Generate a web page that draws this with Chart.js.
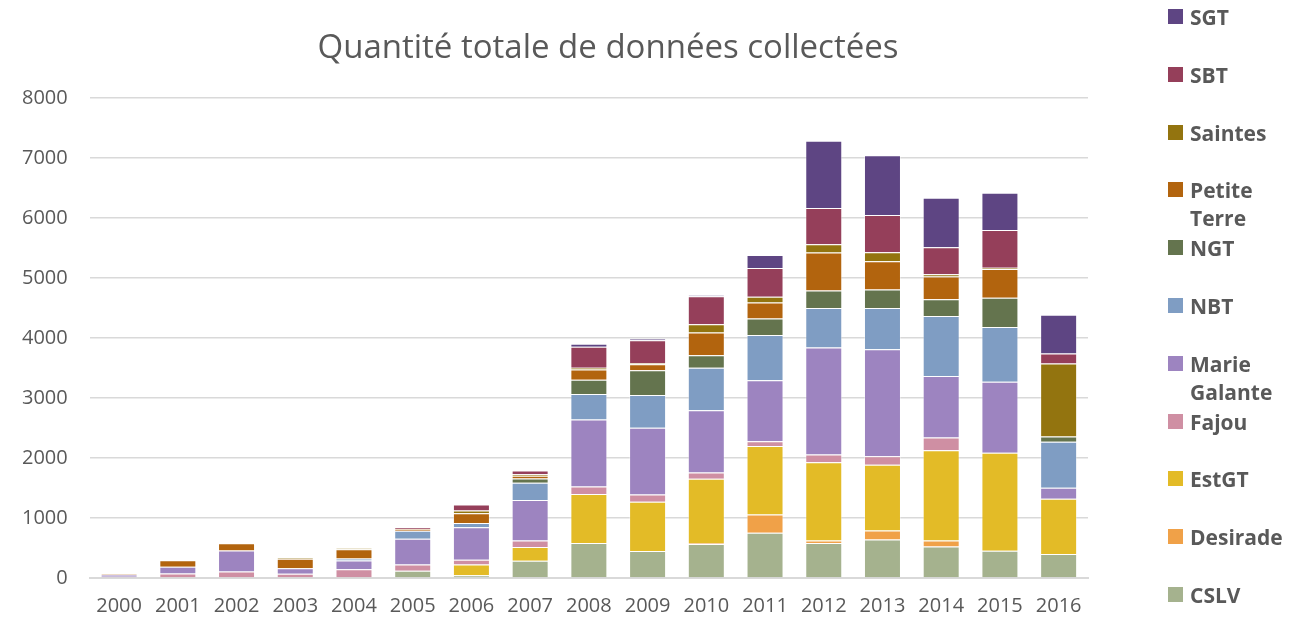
<!DOCTYPE html>
<html>
<head>
<meta charset="utf-8">
<script src="https://cdn.jsdelivr.net/npm/chart.js@4"></script>
<style>
    body { margin: 0; background: #fff; }
    #wrap { position: relative; width: 1304px; height: 618px; overflow: hidden; }
    #box { position: absolute; left: 0; top: 0; width: 1216px; height: 634px; }
    #title { position: absolute; left: 0; top: 26px; width: 1216px; text-align: center; font-family: 'Open Sans', sans-serif; font-size: 33px; line-height: 40px; color: #595959; }
    #legend { position: absolute; left: 1168px; top: 3px; font-family: 'Open Sans', sans-serif; font-weight: bold; font-size: 21px; color: #595959; }
    .item { position: relative; height: 57.8px; padding-left: 22px; line-height: 28px; }
    .swatch { position: absolute; left: 0; top: 6px; width: 15px; height: 15px; }
</style>
</head>
<body>
<div id="wrap">
    <div id="box"><canvas id="chart"></canvas></div>
    <div id="title">Quantité totale de données collectées</div>
    <div id="legend"></div>
</div>
<script>
const years = ['2000', '2001', '2002', '2003', '2004', '2005', '2006', '2007', '2008',
    '2009', '2010', '2011', '2012', '2013', '2014', '2015', '2016'];

const cslv = [0, 0, 0, 0, 0, 122, 45, 289, 584, 451, 568, 755, 584, 640, 523, 456, 401];
const desirade = [0, 0, 0, 0, 0, 0, 0, 0, 0, 0, 17, 303, 39, 150, 100, 0, 0];
const estGT = [0, 0, 0, 0, 0, 0, 178, 228, 818, 818, 1068, 1141, 1308, 1096, 1508, 1631, 918];
const fajou = [22, 75, 110, 72, 145, 103, 83, 106, 122, 122, 106, 80, 128, 145, 211, 0, 0];
const marieGalante = [35, 113, 348, 89, 145, 428, 540, 679, 1119, 1113, 1035, 1016, 1781, 1781, 1024, 1185, 184];
const nbt = [0, 0, 0, 0, 33, 136, 72, 284, 423, 545, 712, 757, 662, 690, 1002, 913, 768];
const ngt = [0, 0, 0, 0, 0, 0, 0, 72, 239, 412, 206, 273, 289, 306, 278, 484, 89];
const petiteTerre = [20, 106, 123, 161, 156, 28, 161, 45, 172, 100, 378, 267, 634, 473, 378, 479, 0];
const saintes = [0, 0, 0, 17, 17, 0, 45, 28, 28, 17, 139, 95, 139, 150, 39, 22, 1213];
const sbt = [0, 0, 0, 0, 0, 28, 100, 61, 351, 384, 467, 479, 601, 618, 451, 629, 167];
const sgt = [0, 0, 0, 0, 0, 0, 0, 0, 50, 28, 15, 217, 1124, 996, 824, 623, 646];

const yTicks = [0, 1000, 2000, 3000, 4000, 5000, 6000, 7000, 8000];

// bottom of the stack first
const series = [
    { label: 'CSLV', data: cslv, color: '#a5b28e' },
    { label: 'Desirade', data: desirade, color: '#f0a148' },
    { label: 'EstGT', data: estGT, color: '#e3bb27' },
    { label: 'Fajou', data: fajou, color: '#cf8fa3' },
    { label: 'Marie Galante', data: marieGalante, color: '#9d84c0' },
    { label: 'NBT', data: nbt, color: '#7f9dc3' },
    { label: 'NGT', data: ngt, color: '#64744e' },
    { label: 'Petite Terre', data: petiteTerre, color: '#b2640e' },
    { label: 'Saintes', data: saintes, color: '#93740f' },
    { label: 'SBT', data: sbt, color: '#953f5a' },
    { label: 'SGT', data: sgt, color: '#5e4583' }
];

const textColor = '#595959';

const chart = new Chart(document.getElementById('chart'), {
    type: 'bar',
    data: {
        labels: years,
        datasets: series.map(s => ({
            label: s.label,
            data: s.data,
            backgroundColor: s.color,
            borderColor: 'rgba(255,255,255,0.35)',
            borderWidth: 1,
            categoryPercentage: 1,
            barPercentage: 0.63
        }))
    },
    options: {
        responsive: true,
        maintainAspectRatio: false,
        animation: false,
        layout: { padding: { left: 0, right: 128, top: 98, bottom: 0 } },
        plugins: {
            legend: { display: false },
            tooltip: { enabled: false },
            title: { display: false }
        },
        scales: {
            x: {
                stacked: true,
                grid: { display: false, drawTicks: false },
                border: { color: '#d9d9d9', width: 2 },
                ticks: { color: textColor, font: { family: 'Open Sans', size: 20 }, padding: 16, maxRotation: 0 }
            },
            y: {
                stacked: true,
                min: 0,
                max: yTicks[yTicks.length - 1],
                afterBuildTicks: axis => { axis.ticks = yTicks.map(v => ({ value: v })); },
                grid: { color: '#d9d9d9', lineWidth: 1.5, drawTicks: false },
                border: { display: false },
                ticks: {
                    color: textColor,
                    font: { family: 'Open Sans', size: 20 },
                    padding: 22,
                    callback: v => String(v)
                }
            }
        }
    }
});

// legend drawn as html so the two-word names can wrap like the original
const legendEl = document.getElementById('legend');
series.slice().reverse().forEach(s => {
    const item = document.createElement('div');
    item.className = 'item';
    const sw = document.createElement('span');
    sw.className = 'swatch';
    sw.style.background = s.color;
    item.appendChild(sw);
    s.label.split(' ').forEach(word => {
        const line = document.createElement('div');
        line.textContent = word;
        item.appendChild(line);
    });
    legendEl.appendChild(item);
});
</script>
</body>
</html>
